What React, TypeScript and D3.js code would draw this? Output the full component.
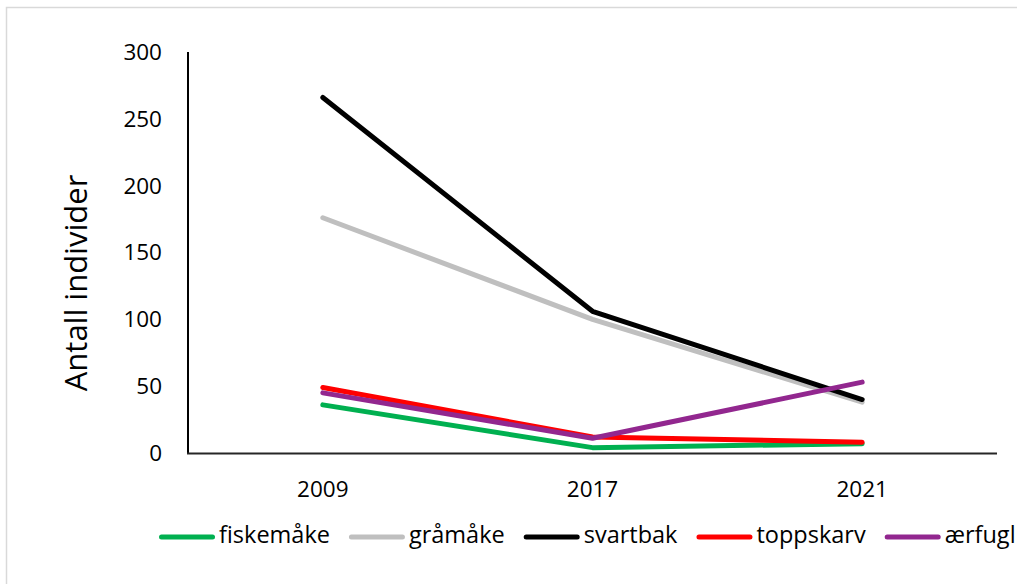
import React from "react";
import * as d3 from "d3";

const years = ["2009", "2017", "2021"];
const seriesNames = ["fiskemåke", "gråmåke", "svartbak", "toppskarv", "ærfugl"];
const fiskemake = [36, 4, 7];
const gramake = [176, 100, 38];
const svartbak = [266, 106, 40];
const toppskarv = [49, 12, 8];
const aerfugl = [45, 11, 53];
const yTicks = [0, 50, 100, 150, 200, 250, 300];
const colors = ["#00b050", "#bfbfbf", "#000000", "#ff0000", "#92278f"];

const font = "'Open Sans', 'DejaVu Sans', sans-serif";

function measure(text: string, size: number): number {
  try {
    const c = document.createElement("canvas");
    const ctx = c.getContext("2d");
    if (ctx) {
      ctx.font = `${size}px 'Open Sans', 'DejaVu Sans', sans-serif`;
      return ctx.measureText(text).width;
    }
  } catch (e) {}
  return text.length * size * 0.55;
}

export default function App() {
  const W = 1017, H = 584;
  const left = 188, right = 997, top = 52, bottom = 453;
  const x = d3.scaleBand<string>().domain(years).range([left, right]);
  const y = d3.scaleLinear().domain([0, 300]).range([bottom, top]);
  const data = [fiskemake, gramake, svartbak, toppskarv, aerfugl];
  const line = d3
    .line<number>()
    .x((_, i) => (x(years[i]) as number) + x.bandwidth() / 2)
    .y((d) => y(d));
  const legendFs = 23.5;
  const legendY = 537;
  let cx = 159;
  const legendItems = seriesNames.map((n, i) => {
    const tw = measure(n, legendFs);
    const item = { x: cx, name: n, color: colors[i] };
    cx += 60 + tw + 19;
    return item;
  });
  return (
    <svg width={W} height={H} style={{ position: "absolute", left: 0, top: 0 }}>
      <rect x={0} y={0} width={W} height={H} fill="#fff" />
      <rect x={6.5} y={7.5} width={1200} height={1200} fill="none" stroke="#d9d9d9" strokeWidth={1.5} />
      <line x1={left} x2={left} y1={top} y2={bottom} stroke="#000" strokeWidth={2} />
      <line x1={left - 1} x2={right} y1={bottom + 0.5} y2={bottom + 0.5} stroke="#262626" strokeWidth={2} />
      {yTicks.map((t) => (
        <text key={t} x={162} y={y(t)} dy="0.35em" textAnchor="end" fontFamily={font} fontSize={22.5} fill="#000">
          {t}
        </text>
      ))}
      {years.map((yr) => (
        <text key={yr} x={(x(yr) as number) + x.bandwidth() / 2} y={497} textAnchor="middle" fontFamily={font} fontSize={22.5} fill="#000">
          {yr}
        </text>
      ))}
      <text
        transform={`translate(87, 283) rotate(-90)`}
        textAnchor="middle"
        fontFamily={font}
        fontSize={31}
        fill="#000"
      >
        Antall individer
      </text>
      {data.map((d, i) => (
        <path
          key={seriesNames[i]}
          d={line(d) || ""}
          fill="none"
          stroke={colors[i]}
          strokeWidth={5}
          strokeLinecap="round"
          strokeLinejoin="round"
        />
      ))}
      {legendItems.map((it) => (
        <g key={it.name}>
          <line x1={it.x + 2.5} x2={it.x + 53.5} y1={legendY} y2={legendY} stroke={it.color} strokeWidth={5} strokeLinecap="round" />
          <text x={it.x + 60} y={543} fontFamily={font} fontSize={legendFs} fill="#000">
            {it.name}
          </text>
        </g>
      ))}
    </svg>
  );
}
